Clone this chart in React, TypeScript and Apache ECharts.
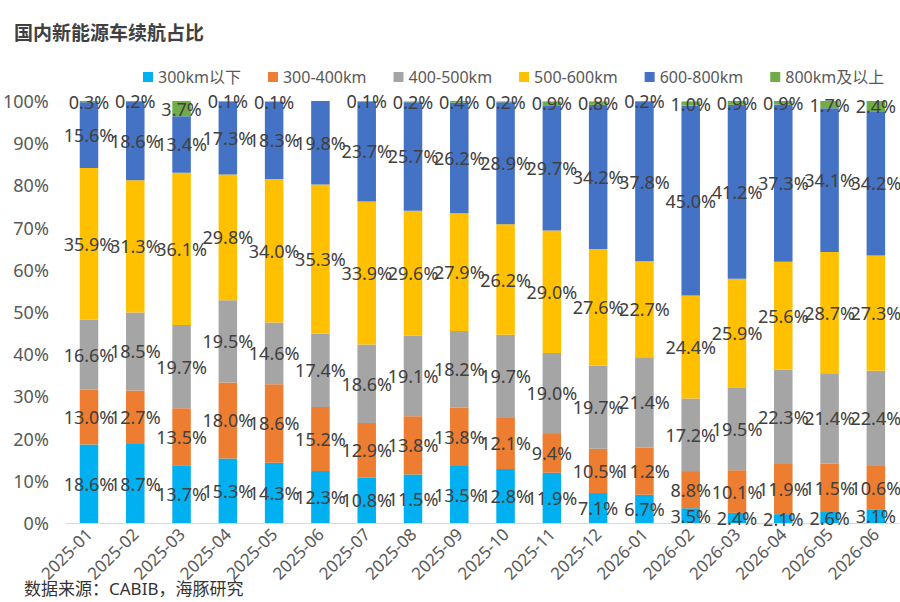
import React, { useEffect, useRef } from "react";
import * as echarts from "echarts";

const categories = [
  "2025-01", "2025-02", "2025-03", "2025-04", "2025-05", "2025-06",
  "2025-07", "2025-08", "2025-09", "2025-10", "2025-11", "2025-12",
  "2026-01", "2026-02", "2026-03", "2026-04", "2026-05", "2026-06",
];
const seriesNames = ["300km以下", "300-400km", "400-500km", "500-600km", "600-800km", "800km及以上"];
const below300 = [18.6, 18.7, 13.7, 15.3, 14.3, 12.3, 10.8, 11.5, 13.5, 12.8, 11.9, 7.1, 6.7, 3.5, 2.4, 2.1, 2.6, 3.1];
const r300to400 = [13.0, 12.7, 13.5, 18.0, 18.6, 15.2, 12.9, 13.8, 13.8, 12.1, 9.4, 10.5, 11.2, 8.8, 10.1, 11.9, 11.5, 10.6];
const r400to500 = [16.6, 18.5, 19.7, 19.5, 14.6, 17.4, 18.6, 19.1, 18.2, 19.7, 19.0, 19.7, 21.4, 17.2, 19.5, 22.3, 21.4, 22.4];
const r500to600 = [35.9, 31.3, 36.1, 29.8, 34.0, 35.3, 33.9, 29.6, 27.9, 26.2, 29.0, 27.6, 22.7, 24.4, 25.9, 25.6, 28.7, 27.3];
const r600to800 = [15.6, 18.6, 13.4, 17.3, 18.3, 19.8, 23.7, 25.7, 26.2, 28.9, 29.7, 34.2, 37.8, 45.0, 41.2, 37.3, 34.1, 34.2];
const above800 = [0.3, 0.2, 3.7, 0.1, 0.1, 0, 0.1, 0.2, 0.4, 0.2, 0.9, 0.8, 0.2, 1.0, 0.9, 0.9, 1.7, 2.4];
const yTicks = { min: 0, max: 100, interval: 10 };

const colors = ["#00B0F0", "#ED7D31", "#A5A5A5", "#FFC000", "#4472C4", "#70AD47"];
const FONT = '"Noto Sans", "Noto Sans CJK SC", sans-serif';

export default function App() {
  const ref = useRef<HTMLDivElement>(null);
  useEffect(() => {
    if (!ref.current) return;
    const chart = echarts.init(ref.current, undefined, { renderer: "svg" });
    const allData = [below300, r300to400, r400to500, r500to600, r600to800, above800];
    chart.setOption({
      animation: false,
      backgroundColor: "#ffffff",
      textStyle: { fontFamily: FONT },
      title: {
        text: "国内新能源车续航占比",
        left: 9,
        top: 18,
        textStyle: { fontSize: 19, fontWeight: "bold", color: "#404040", fontFamily: FONT },
      },
      legend: {
        left: 138,
        top: 64,
        itemWidth: 10,
        itemHeight: 10,
        itemGap: 27,
        icon: "rect",
        textStyle: { fontSize: 16, color: "#595959", fontFamily: FONT },
        data: seriesNames,
      },
      grid: { left: 63, right: 1, top: 101, bottom: 79, containLabel: false },
      xAxis: {
        type: "category",
        data: categories,
        axisLine: { lineStyle: { color: "#D9D9D9" } },
        axisTick: { show: false },
        axisLabel: { rotate: 45, fontSize: 17, color: "#595959", margin: 8, interval: 0, fontFamily: FONT },
      },
      yAxis: {
        type: "value",
        min: yTicks.min,
        max: yTicks.max,
        interval: yTicks.interval,
        splitLine: { show: false },
        axisLine: { show: false },
        axisTick: { show: false },
        axisLabel: { formatter: "{value}%", fontSize: 18, color: "#595959", margin: 17, fontFamily: FONT },
      },
      series: seriesNames.map((name, i) => ({
        name,
        type: "bar",
        stack: "total",
        barWidth: "40%",
        itemStyle: { color: colors[i] },
        label: {
          show: true,
          position: "inside",
          fontSize: 18,
          color: "#404040",
          fontFamily: FONT,
          formatter: (p: any) => (p.value ? Number(p.value).toFixed(1) + "%" : ""),
        },
        data: allData[i],
      })),
      graphic: [
        {
          type: "text",
          left: 24,
          top: 580,
          style: { text: "数据来源：CABIB，海豚研究", fontSize: 17, fill: "#333333", fontFamily: FONT },
        },
      ],
    });
    return () => chart.dispose();
  }, []);
  return (
    <div
      ref={ref}
      style={{ position: "fixed", left: 0, top: 0, width: 900, height: 602, background: "#fff" }}
    />
  );
}
